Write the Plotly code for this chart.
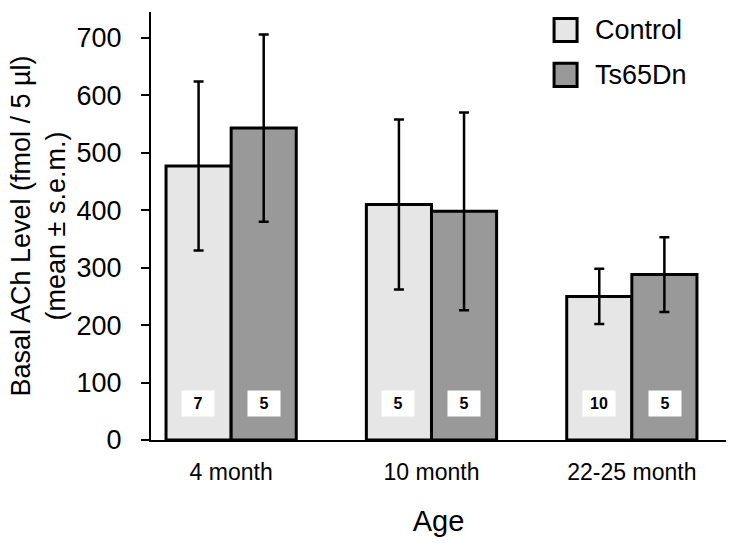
import plotly.graph_objects as go

ages = ["4 month", "10 month", "22-25 month"]
control_mean = [477, 410, 250]
control_sem = [147, 148, 48]
ts_mean = [543, 398, 288]
ts_sem = [163, 172, 65]
control_n = ["7", "5", "10"]
ts_n = ["5", "5", "5"]
y_ticks = [0, 100, 200, 300, 400, 500, 600, 700]
series_names = ["Control", "Ts65Dn"]
series_colors = ["#e6e6e6", "#999999"]

FONT = "Liberation Sans, Arial, sans-serif"

fig = go.Figure()
for name, means, sems, col in ((series_names[0], control_mean, control_sem, series_colors[0]),
                               (series_names[1], ts_mean, ts_sem, series_colors[1])):
    fig.add_trace(go.Bar(
        name=name, x=ages, y=means, showlegend=False,
        marker=dict(color=col, line=dict(color="black", width=3)),
        error_y=dict(type="data", array=sems, color="black", thickness=2.5, width=5),
    ))

# sample-size labels
for i, a in enumerate(ages):
    for txt, shift in ((control_n[i], -33), (ts_n[i], 33)):
        fig.add_annotation(
            x=a, y=63, xref="x", yref="y", text="<b>%s</b>" % txt, xshift=shift,
            showarrow=False, bgcolor="white", width=30, height=23,
            font=dict(family=FONT, size=16, color="black"),
        )

# legend (drawn to match the large boxes of the original)
legend_y = [0.958, 0.853]
for name, col, ly in zip(series_names, series_colors, legend_y):
    fig.add_shape(type="rect", xref="paper", yref="paper",
                  x0=0.701, x1=0.741, y0=ly - 0.027, y1=ly + 0.027,
                  fillcolor=col, line=dict(color="black", width=3))
    fig.add_annotation(x=0.769, y=ly, xref="paper", yref="paper", text=name,
                       showarrow=False, xanchor="left", yanchor="middle",
                       font=dict(family=FONT, size=27, color="black"))

fig.update_layout(
    width=731, height=546,
    margin=dict(l=151, r=5, t=12, b=106),
    paper_bgcolor="white", plot_bgcolor="white",
    barmode="group", bargap=0.35, bargroupgap=0,
    font=dict(family=FONT, color="black"),
    showlegend=False,
    xaxis=dict(
        range=[-0.4, 2.47], showline=True, linecolor="black", linewidth=2,
        ticks="", ticklabelstandoff=10, automargin=False,
        tickfont=dict(family=FONT, size=23, color="black"),
        title=dict(text="Age", font=dict(family=FONT, size=29, color="black"), standoff=27),
    ),
    yaxis=dict(
        range=[0, 745], tickvals=y_ticks, showline=True, linecolor="black", linewidth=2,
        ticks="outside", ticklen=8, tickwidth=1.5, tickcolor="black",
        ticklabelstandoff=14, automargin=False,
        tickfont=dict(family=FONT, size=27, color="black"), showgrid=False, zeroline=False,
        title=dict(text="Basal ACh Level (fmol / 5 µl)<br>(mean ± s.e.m.)",
                   font=dict(family=FONT, size=27, color="black"), standoff=3),
    ),
)

fig.write_html("out.html", config={"displayModeBar": False},
               post_script="document.body.style.margin='0';")
